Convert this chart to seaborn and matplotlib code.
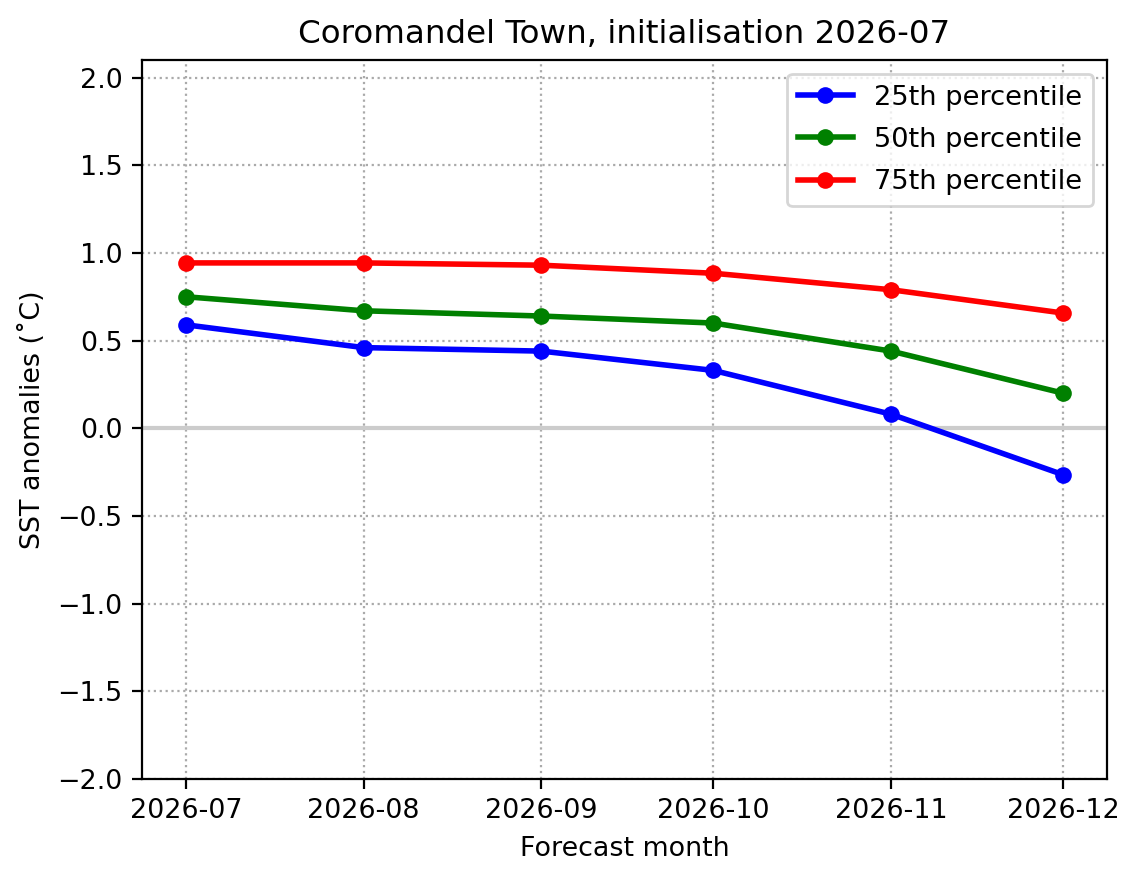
import numpy as np
import pandas as pd
import matplotlib
matplotlib.use("Agg")
import matplotlib.pyplot as plt
import matplotlib.dates as mdates
import seaborn as sns

months = ["2026-07", "2026-08", "2026-09", "2026-10", "2026-11", "2026-12"]
p25 = [0.59, 0.46, 0.44, 0.33, 0.08, -0.265]
p50 = [0.75, 0.67, 0.64, 0.60, 0.44, 0.20]
p75 = [0.943, 0.943, 0.93, 0.884, 0.79, 0.657]
labels = ["25th percentile", "50th percentile", "75th percentile"]
colors = ["blue", "green", "red"]

plt.rcParams["font.size"] = 9.7

rows = []
for lab, vals in zip(labels, [p25, p50, p75]):
    for m, v in zip(months, vals):
        rows.append({"month": pd.Timestamp(m + "-01"), "value": v, "series": lab})
df = pd.DataFrame(rows)

fig = plt.figure(figsize=(5.7, 4.42), dpi=200)
ax = fig.add_axes([0.1246, 0.1188, 0.8465, 0.8133])

ax.axhline(0, color="#cccccc", lw=1.5, zorder=2)
sns.lineplot(data=df, x="month", y="value", hue="series",
             palette=dict(zip(labels, colors)), marker="o", markersize=6,
             markeredgewidth=0, linewidth=2, ax=ax, zorder=3)

ax.set_ylim(-2, 2.1)
ax.set_yticks(np.arange(-2.0, 2.01, 0.5))
ax.set_xticks([pd.Timestamp(m + "-01") for m in months])
ax.xaxis.set_major_formatter(mdates.DateFormatter("%Y-%m"))
ax.grid(True, linestyle=":", color="#aaaaaa", linewidth=0.8)
ax.set_xlabel("Forecast month")
ax.set_ylabel("SST anomalies (˚C)")
ax.set_title("Coromandel Town, initialisation 2026-07", fontsize=11.7)
ax.legend(loc="upper right", title=None, fontsize=9.8, labelspacing=0.6)

fig.savefig("out.png", dpi=200)
